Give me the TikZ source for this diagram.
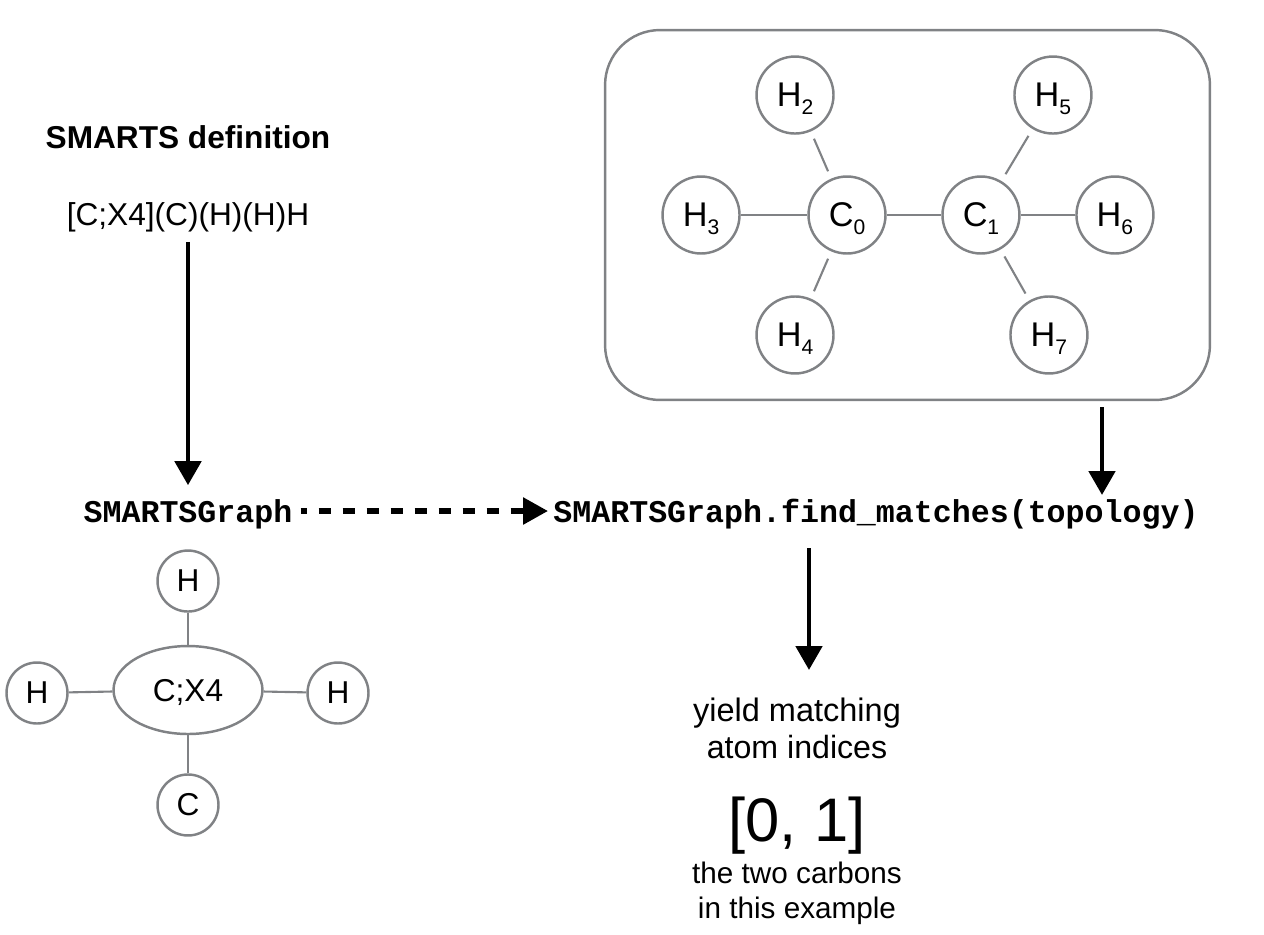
\documentclass[tikz,border=0pt]{standalone}
\usepackage{fontspec}
\setmainfont{Liberation Sans}
\setmonofont{Liberation Mono}
\usepackage{tikz}
\usetikzlibrary{positioning, arrows.meta, shapes.geometric}
\definecolor{atomgray}{HTML}{808285}
\newcommand{\labelsize}{\fontsize{18}{21}\selectfont}
\newcommand{\atomlabel}[2]{{\fontsize{19.5}{21}\selectfont #1}\raisebox{-0.45ex}[0pt][0pt]{\fontsize{12}{12}\selectfont #2}}
\tikzset{
	atom/.style={circle,draw=atomgray,line width=1.4pt,minimum size=1.54cm,inner sep=0pt,font=\labelsize},
	smallatom/.style={circle,draw=atomgray,line width=1.4pt,minimum size=1.22cm,inner sep=0pt,font=\labelsize},
	centreatom/.style={ellipse,draw=atomgray,line width=1.4pt,minimum width=2.98cm,minimum height=1.76cm,inner sep=0pt,text depth=0pt,font=\labelsize},
	bond/.style={draw=atomgray,line width=1.2pt},
	gapbond/.style={bond,shorten >=4.5pt,shorten <=4.5pt},
	flow/.style={line width=2.8pt,-{Triangle[length=4.8mm,width=5.2mm]}},
	dashflow/.style={line width=3.2pt,dash pattern=on 0.24cm off 0.24cm,dash phase=0.12cm,-{Triangle[length=5mm,width=5.2mm]}},
	code/.style={font=\ttfamily\bfseries\labelsize,inner sep=0pt,text height=15pt,text depth=2pt},
	txt/.style={font=\labelsize,inner sep=0pt},
	smalltxt/.style={font=\fontsize{16.9}{20}\selectfont,inner sep=0pt}
}
\begin{document}
\begin{tikzpicture}[x=0.02cm,y=-0.02cm,on grid]
	\useasboundingbox (0,0) rectangle (1264,934);
	\node[draw=atomgray,line width=1.4pt,rounded corners=1.1cm,minimum width=12.1cm,minimum height=7.4cm] (topology) at (907.5,215) {};
	\node[atom] (C0) at (847,215)				{\atomlabel{C}{0}};
	\node[atom] (C1) [right=2.68cm of C0]		{\atomlabel{C}{1}};
	\node[atom] (H3) [left=2.92cm of C0]			{\atomlabel{H}{3}};
	\node[atom] (H6) [right=2.68cm of C1]		{\atomlabel{H}{6}};
	\node[atom] (H2) [above left=2.4cm and 1.04cm of C0]	{\atomlabel{H}{2}};
	\node[atom] (H4) [below left=2.4cm and 1.04cm of C0]	{\atomlabel{H}{4}};
	\node[atom] (H5) [above right=2.4cm and 1.44cm of C1]	{\atomlabel{H}{5}};
	\node[atom] (H7) [below right=2.4cm and 1.36cm of C1]	{\atomlabel{H}{7}};
	\path[bond]	(H3) edge (C0)
				(C0) edge (C1)
				(C1) edge (H6);
	\path[gapbond]	(H2) edge (C0)
				(H4) edge (C0)
				(H5) edge (C1)
				(H7) edge (C1);

	\node[font=\bfseries\labelsize,inner sep=0pt] (title) at (188,137) {SMARTS definition};
	\node[txt] (smarts) at (188,217) {[C;X4](C)(H)(H)H};
	\node[code] (graph) at (188,511) {SMARTSGraph};
	\node[code] (find) at (876,511) {SMARTSGraph.find\_matches(topology)};

	\node[centreatom] (X4) at (188,690) {C;X4};
	\node[smallatom] (Htop) [above=2.18cm of X4] {H};
	\node[smallatom] (Hleft) at (37,693) {H};
	\node[smallatom] (Hright) at (338,693) {H};
	\node[smallatom] (Cbottom) [below=2.3cm of X4] {C};
	\path[bond]	(Htop) edge (X4)
				(Hleft) edge (X4)
				(Hright) edge (X4)
				(Cbottom) edge (X4);

	\node[txt,font=\fontsize{18.5}{21}\selectfont] (yield) at (797,713) {yield matching};
	\node[txt,font=\fontsize{18.3}{21}\selectfont] (indices) [below=0.68cm of yield] {atom indices};
	\node[txt,font=\fontsize{35}{40}\selectfont] (result) at (797,826) {[0, 1]};
	\node[smalltxt] (carbons) at (797,873) {the two carbons};
	\node[smalltxt] (instance) [below=0.76cm of carbons] {in this example};

	\coordinate (topoout) at (1102,407);
	\coordinate (topoin) at (1102,495);
	\coordinate (findout) at (809,548);
	\coordinate (yieldin) at (809,670);
	\draw[flow,shorten <=5.5pt,shorten >=6pt] (smarts) -- (graph);
	\draw[flow] (topoout) -- (topoin);
	\draw[flow] (findout) -- (yieldin);
	\draw[dashflow,shorten <=0.16cm,shorten >=0.1cm] (graph.east) -- (find.west);
\end{tikzpicture}
\end{document}
